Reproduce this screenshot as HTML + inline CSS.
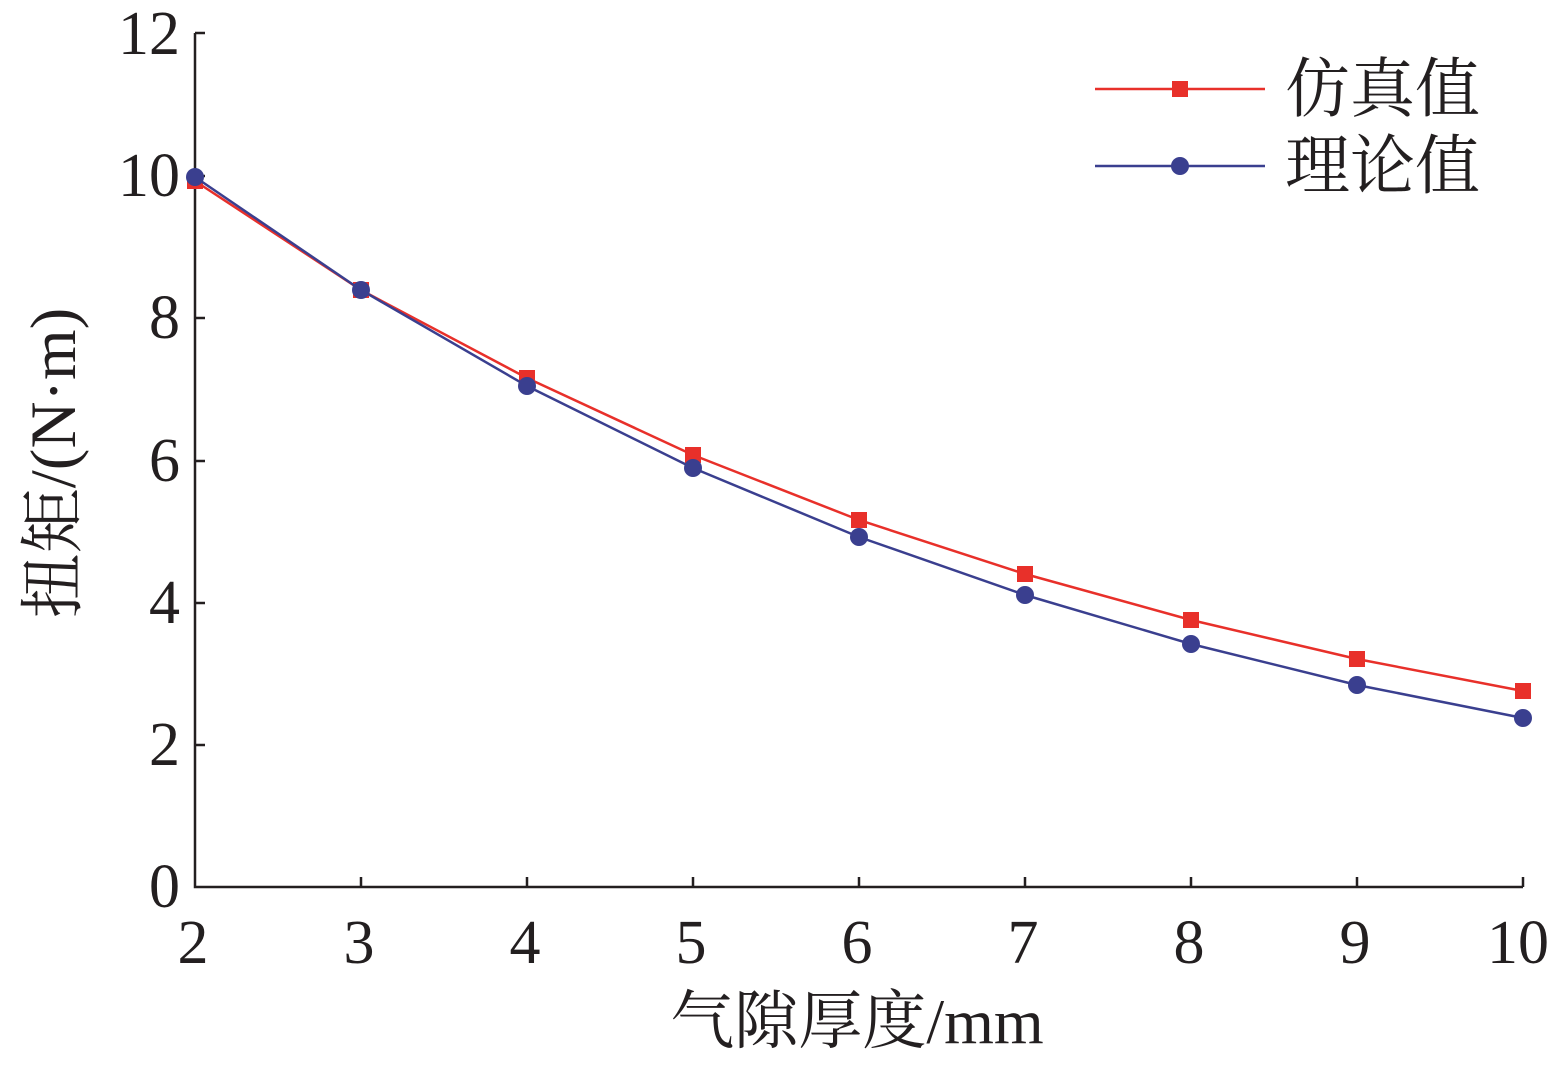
<!DOCTYPE html>
<html><head><meta charset="utf-8"><style>
html,body{margin:0;padding:0;background:#fff;}
svg{display:block;}
text{font-family:"Liberation Serif","Noto Serif CJK SC",serif;fill:#231f20;}
</style></head><body>
<svg width="1552" height="1065" viewBox="0 0 1552 1065" xmlns="http://www.w3.org/2000/svg">
<g stroke="#231f20" stroke-width="2.5" fill="none">
<path d="M195,33 V887 H1523"/>
<path d="M195,33 h10 M195,176 h10 M195,318 h10 M195,461 h10 M195,603 h10 M195,745 h10"/>
<path d="M361,887 v-10 M527,887 v-10 M693,887 v-10 M859,887 v-10 M1025,887 v-10 M1191,887 v-10 M1357,887 v-10 M1523,887 v-10"/>
</g>
<g font-size="62" text-anchor="end">
<text x="180" y="907">0</text><text x="180" y="765">2</text><text x="180" y="623">4</text>
<text x="180" y="481">6</text><text x="180" y="338">8</text><text x="180" y="196">10</text><text x="180" y="54">12</text>
</g>
<g font-size="62" text-anchor="middle">
<text x="193" y="963">2</text><text x="359" y="963">3</text><text x="525" y="963">4</text><text x="691" y="963">5</text>
<text x="857" y="963">6</text><text x="1023" y="963">7</text><text x="1189" y="963">8</text><text x="1355" y="963">9</text><text x="1518" y="963">10</text>
</g>
<text x="857" y="1043" font-size="64" text-anchor="middle">气隙厚度/mm</text>
<text transform="translate(75,463) rotate(-90)" font-size="65" text-anchor="middle">扭矩/(N·m)</text>
<polyline fill="none" stroke="#e8302a" stroke-width="2.5" points="195,181 361,290 527,378 693,455 859,520 1025,574 1191,620 1357,659 1523,691"/>
<g fill="#e8302a">
<rect x="187" y="173" width="16" height="16"/><rect x="353" y="282" width="16" height="16"/><rect x="519" y="370" width="16" height="16"/>
<rect x="685" y="447" width="16" height="16"/><rect x="851" y="512" width="16" height="16"/><rect x="1017" y="566" width="16" height="16"/>
<rect x="1183" y="612" width="16" height="16"/><rect x="1349" y="651" width="16" height="16"/><rect x="1515" y="683" width="16" height="16"/>
</g>
<polyline fill="none" stroke="#3a3f8f" stroke-width="2.5" points="195,177 361,290 527,386 693,468 859,537 1025,595 1191,644 1357,685 1523,718"/>
<g fill="#3a3f8f">
<circle cx="195" cy="177" r="9"/><circle cx="361" cy="290" r="9"/><circle cx="527" cy="386" r="9"/><circle cx="693" cy="468" r="9"/>
<circle cx="859" cy="537" r="9"/><circle cx="1025" cy="595" r="9"/><circle cx="1191" cy="644" r="9"/><circle cx="1357" cy="685" r="9"/><circle cx="1523" cy="718" r="9"/>
</g>
<line x1="1095" y1="89" x2="1265" y2="89" stroke="#e8302a" stroke-width="2.5"/>
<rect x="1172" y="81" width="16" height="16" fill="#e8302a"/>
<line x1="1095" y1="166" x2="1265" y2="166" stroke="#3a3f8f" stroke-width="2.5"/>
<circle cx="1180" cy="166" r="9" fill="#3a3f8f"/>
<text x="1285" y="111" font-size="65">仿真值</text>
<text x="1285" y="188" font-size="65">理论值</text>
</svg>
</body></html>
